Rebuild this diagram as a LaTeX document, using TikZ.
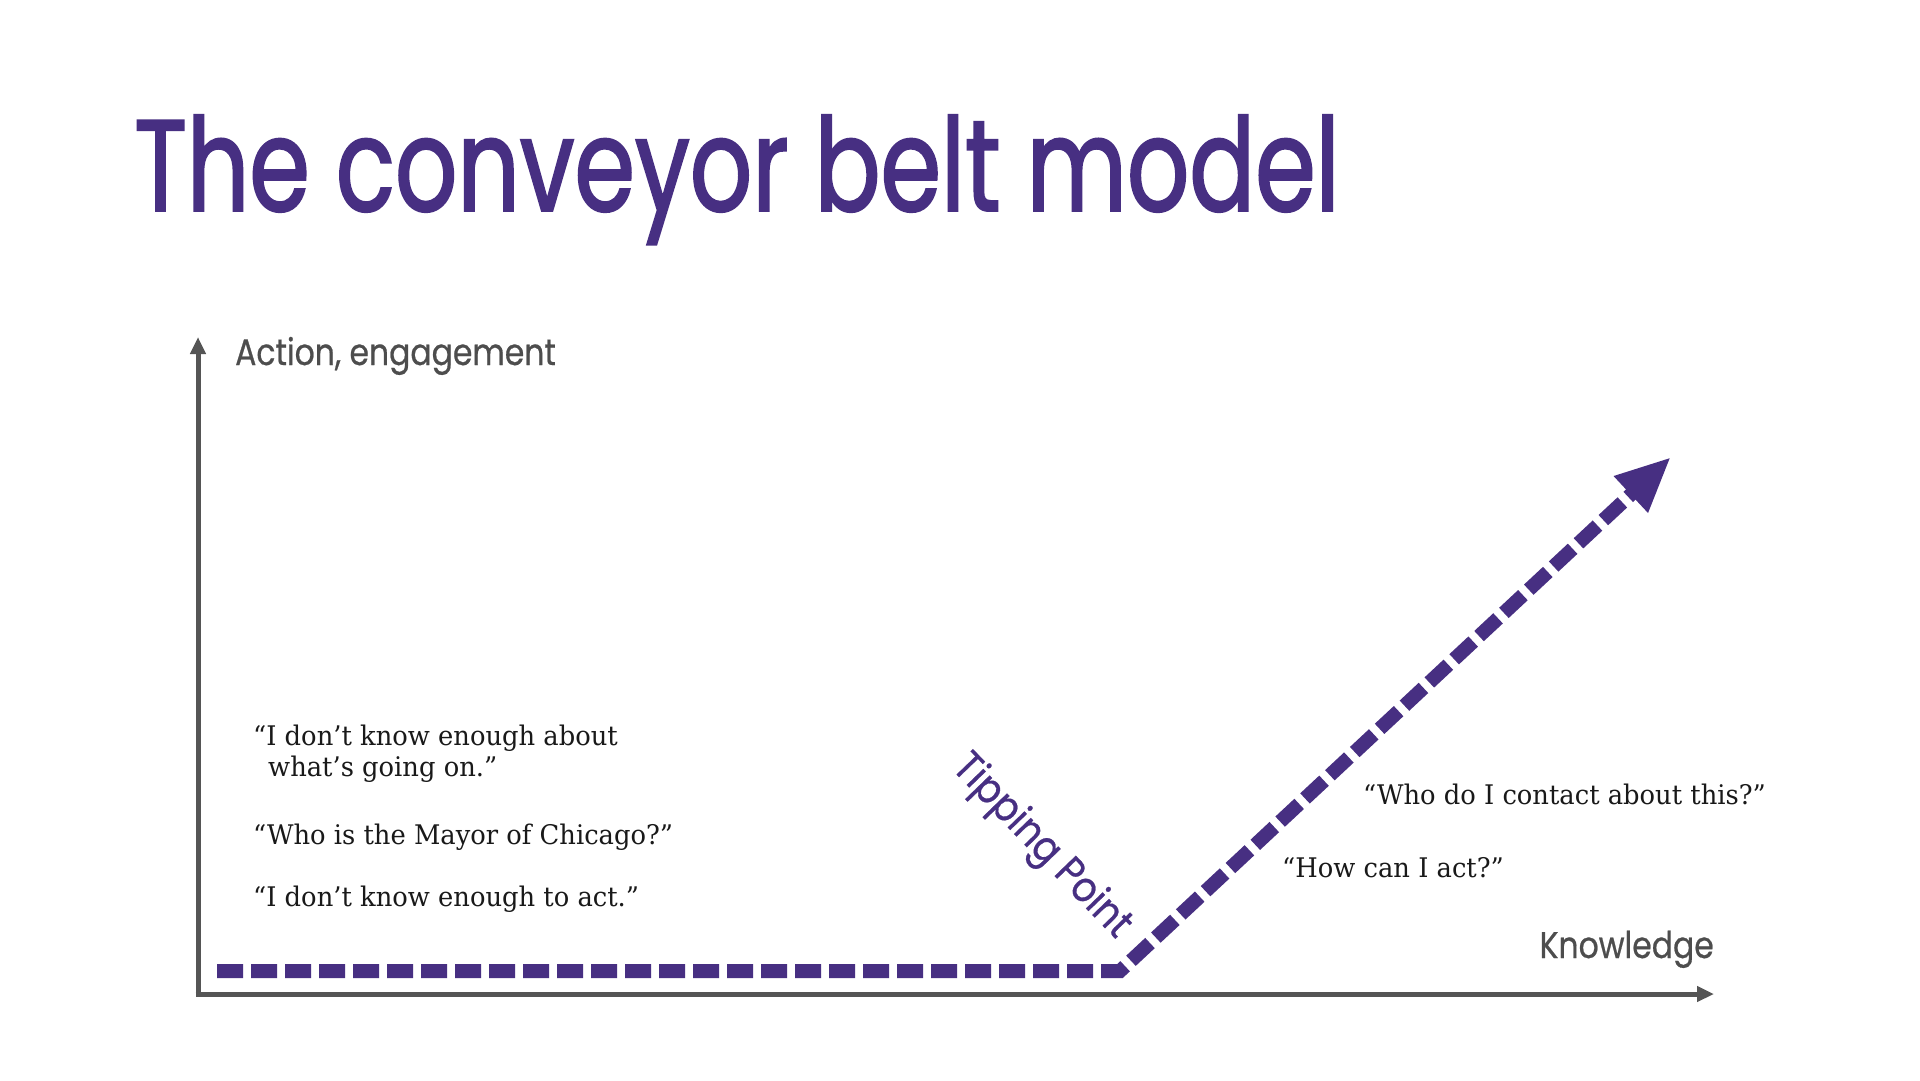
\documentclass[tikz,border=0pt]{standalone}
\usepackage{fontspec}
\usepackage{tikz}
\usetikzlibrary{positioning,arrows.meta}
\newfontfamily\headfont[FakeStretch=0.75,FakeBold=1.5]{Poppins}
\newfontfamily\labelfont[FakeStretch=0.85,FakeBold=0.6]{Poppins}
\newfontfamily\tipfont[FakeStretch=0.88,FakeBold=0.6]{Poppins}
\newfontfamily\sayfont[FakeStretch=0.955]{DejaVu Serif}
\definecolor{beltpurple}{HTML}{472F82}
\definecolor{axisgray}{HTML}{555555}
\definecolor{labelgray}{HTML}{4D4D4D}
\tikzset{
  axisarr/.style={-{Triangle[length=17pt,width=15pt]},line width=5pt,draw=axisgray},
  beltarr/.style={-{Triangle[length=55pt,width=46pt]},line width=14pt,draw=beltpurple,
                  dash pattern=on 26pt off 8pt,line join=miter},
  headline/.style={inner sep=0pt,anchor=base west,text=beltpurple,
                   font=\headfont\fontsize{130}{140}\selectfont},
  axislabel/.style={inner sep=0pt,text=labelgray,font=\labelfont\fontsize{37}{40}\selectfont},
  tiplabel/.style={inner sep=0pt,text=beltpurple,font=\tipfont\fontsize{42}{46}\selectfont},
  saying/.style={inner sep=0pt,anchor=base west,text=black!90,
                 font=\sayfont\fontsize{27}{31}\selectfont}
}
\begin{document}
\begin{tikzpicture}[x=1pt,y=-1pt]
\fill[white] (0,0) rectangle (1920,1080);
\useasboundingbox (0,0) rectangle (1920,1080);

\node[headline] (ttl) at (134,211) {The conveyor belt model};

\coordinate (org) at (198,994);
\coordinate (ytop) at (198,337);
\coordinate (xend) at (1714,994);
\draw[axisarr] (org) -- (ytop);
\draw[axisarr] ([xshift=-2.5pt]org) -- (xend);

\node[axislabel, anchor=base west] (ylab) at (235,365) {Action, engagement};
\node[axislabel, anchor=base east] (xlab) at (1714,958) {Knowledge};

\coordinate (beltstart) at (217,971);
\coordinate (tip) at (1120,971);
\coordinate (beltend) at (1671,457);
\draw[beltarr] (beltstart) -- (tip) -- (beltend);

\node[tiplabel, rotate=-46] (tpt) at (1041,847) {Tipping Point};

\node[saying] (s1a) at (253,745) {“I don’t know enough about};
\node[saying] (s1b) at (268,776) {what’s going on.”};
\node[saying] (s2) at (253,844) {“Who is the Mayor of Chicago?”};
\node[saying] (s3) at (253,906) {“I don’t know enough to act.”};

\node[saying] (s4) at (1363,804) {“Who do I contact about this?”};
\node[saying] (s5) at (1282,877) {“How can I act?”};
\end{tikzpicture}
\end{document}
